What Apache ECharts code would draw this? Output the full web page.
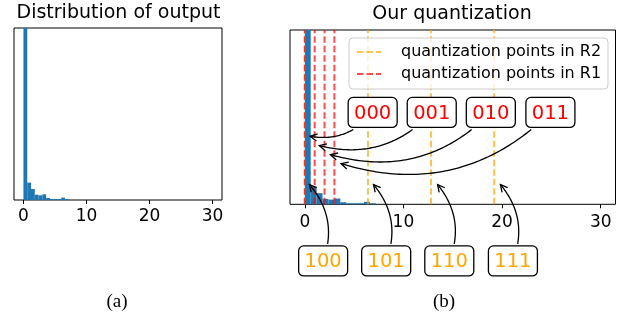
<!DOCTYPE html>
<html>
<head>
<meta charset="utf-8">
<script src="https://cdn.jsdelivr.net/npm/echarts@6/dist/echarts.min.js"></script>
<style>
  html, body { margin: 0; padding: 0; background: #fff; }
  #chart { width: 627px; height: 318px; }
</style>
</head>
<body>
<div id="chart"></div>
<script>
// histogram of the output (bins of 0.6, heights in % of the visible y range)
const binLo = [0, 0.6, 1.2, 1.8, 2.4, 3.0, 3.6, 4.2, 4.8, 5.4, 6.0, 6.6];
const binHi = [0.6, 1.2, 1.8, 2.4, 3.0, 3.6, 4.2, 4.8, 5.4, 6.0, 6.6, 7.2];
const freq = [560, 10.1, 6.4, 3.1, 2.7, 3.3, 1.2, 0.6, 0.6, 0.6, 1.4, 0.6];
const xTicks = [0, 10, 20, 30];

// quantization points
const pointsR2 = [0, 6.4, 12.8, 19.2];
const pointsR1 = [0, 1, 2, 3];

// annotations (data coords of right panel)
const codesR1 = ['000', '001', '010', '011'];
const boxR1X = [6.88, 12.87, 18.86, 24.9];
const boxR1Y = 52.7;
const targetR1 = [[0.33, 39.2], [1.25, 34.0], [2.37, 28.9], [3.48, 23.7]];
const codesR2 = ['100', '101', '110', '111'];
const boxR2X = [1.86, 8.25, 14.65, 21.1];
const boxR2Y = -32.5;
const targetR2 = [[0.33, 12.2], [6.83, 12.2], [13.33, 12.2], [19.7, 12.2]];

const FONT = 'DejaVu Sans';
const chart = echarts.init(document.getElementById('chart'), null, { renderer: 'canvas' });

function xAxisCfg(gi, margin) {
  return {
    type: 'value', gridIndex: gi, min: -1.5, max: 31.5,
    splitLine: { show: false },
    axisLine: { show: false },
    axisTick: { show: true, customValues: xTicks, length: 4, lineStyle: { color: '#000', width: 1 } },
    axisLabel: { customValues: xTicks, margin: margin, color: '#000', fontFamily: FONT, fontSize: 17 }
  };
}
function yAxisCfg(gi) {
  return {
    type: 'value', gridIndex: gi, min: 0, max: 100,
    splitLine: { show: false }, axisLine: { show: false },
    axisTick: { show: false }, axisLabel: { show: false }
  };
}

function renderBar(params, api) {
  const lo = api.coord([api.value(0), 0]);
  const hi = api.coord([api.value(1), api.value(2)]);
  const cs = params.coordSys;
  const shape = echarts.graphic.clipRectByRect(
    { x: lo[0], y: hi[1], width: hi[0] - lo[0], height: lo[1] - hi[1] },
    { x: cs.x, y: cs.y, width: cs.width, height: cs.height });
  return shape && { type: 'rect', shape: shape, style: { fill: '#1f77b4' } };
}
function vlineRenderer(color) {
  return function (params, api) {
    const x = api.coord([api.value(0), 0])[0];
    const cs = params.coordSys;
    return {
      type: 'line',
      shape: { x1: x, y1: cs.y + cs.height, x2: x, y2: cs.y },
      style: { stroke: color, opacity: 0.7, lineWidth: 2, lineDash: [6.5, 3] }
    };
  };
}

const histData = binLo.map((v, i) => [v, binHi[i], freq[i]]);

const option = {
  animation: false,
  grid: [
    { left: 14, top: 28, width: 208, height: 172, show: true, borderColor: '#000', borderWidth: 1 },
    { left: 290, top: 30, width: 325.5, height: 174.3, show: true, borderColor: '#000', borderWidth: 1 }
  ],
  xAxis: [xAxisCfg(0, 8), xAxisCfg(1, 10)],
  yAxis: [yAxisCfg(0), yAxisCfg(1)],
  series: [
    { type: 'custom', xAxisIndex: 0, yAxisIndex: 0, renderItem: renderBar, encode: { x: [0, 1], y: 2 }, data: histData },
    { type: 'custom', xAxisIndex: 1, yAxisIndex: 1, renderItem: renderBar, encode: { x: [0, 1], y: 2 }, data: histData },
    { type: 'custom', name: 'quantization points in R2', xAxisIndex: 1, yAxisIndex: 1, z: 3,
      renderItem: vlineRenderer('#FFA500'), encode: { x: 0 }, data: pointsR2.map(v => [v]) },
    { type: 'custom', name: 'quantization points in R1', xAxisIndex: 1, yAxisIndex: 1, z: 4,
      renderItem: vlineRenderer('#FF0000'), encode: { x: 0 }, data: pointsR1.map(v => [v]) }
  ]
};
chart.setOption(option);

function annotate(code, color, boxXY, target, rad) {
  const c = chart.convertToPixel({ gridIndex: 1 }, boxXY);
  const p = chart.convertToPixel({ gridIndex: 1 }, target);
  const dx = p[0] - c[0], dyUp = -(p[1] - c[1]);
  const ctrl = [(c[0] + p[0]) / 2 + rad * dyUp, (c[1] + p[1]) / 2 + rad * dx];
  const B = t => [
    (1 - t) * (1 - t) * c[0] + 2 * t * (1 - t) * ctrl[0] + t * t * p[0],
    (1 - t) * (1 - t) * c[1] + 2 * t * (1 - t) * ctrl[1] + t * t * p[1]
  ];
  const hw = 24.5, hh = 15;
  let t0 = 0;
  for (let t = 0; t <= 1; t += 0.002) {
    const q = B(t);
    if (Math.abs(q[0] - c[0]) > hw + 2 || Math.abs(q[1] - c[1]) > hh + 2) { t0 = t; break; }
  }
  let t1 = 1;
  for (let t = 1; t >= 0; t -= 0.002) {
    const q = B(t);
    if (Math.hypot(q[0] - p[0], q[1] - p[1]) >= 2) { t1 = t; break; }
  }
  const pts = [];
  for (let i = 0; i <= 60; i++) pts.push(B(t0 + (t1 - t0) * i / 60));
  const tip = pts[pts.length - 1];
  const prev = B(t1 - 0.02);
  let ux = tip[0] - prev[0], uy = tip[1] - prev[1];
  const len = Math.hypot(ux, uy); ux /= len; uy /= len;
  const L = 7, W = 3.6;
  const head = [
    [tip[0] - L * ux - W * uy, tip[1] - L * uy + W * ux],
    tip,
    [tip[0] - L * ux + W * uy, tip[1] - L * uy - W * ux]
  ];
  return [
    { type: 'polyline', z: 50, silent: true, shape: { points: pts }, style: { stroke: '#000', lineWidth: 1.3, fill: null } },
    { type: 'polyline', z: 50, silent: true, shape: { points: head }, style: { stroke: '#000', lineWidth: 1.3, fill: null } },
    { type: 'rect', z: 60, silent: true, shape: { x: c[0] - hw, y: c[1] - hh, width: hw * 2, height: hh * 2, r: 5 },
      style: { fill: '#fff', stroke: '#000', lineWidth: 1.3 } },
    { type: 'text', z: 61, silent: true, x: c[0], y: c[1] + 1,
      style: { text: code, fill: color, font: '19.5px "DejaVu Sans"', align: 'center', verticalAlign: 'middle' } }
  ];
}

let graphics = [];
codesR1.forEach((code, i) => {
  graphics = graphics.concat(annotate(code, '#FF0000', [boxR1X[i], boxR1Y], targetR1[i], -0.3));
});
codesR2.forEach((code, i) => {
  graphics = graphics.concat(annotate(code, '#FFA500', [boxR2X[i], boxR2Y], targetR2[i], 0.3));
});

// legend
graphics.push(
  { type: 'rect', z: 40, silent: true, shape: { x: 349, y: 38, width: 259, height: 51, r: 4 },
    style: { fill: 'rgba(255,255,255,0.8)', stroke: '#cccccc', lineWidth: 1 } },
  { type: 'line', z: 41, silent: true, shape: { x1: 357, y1: 52, x2: 381, y2: 52 },
    style: { stroke: '#FFA500', opacity: 0.7, lineWidth: 2, lineDash: [6.5, 3] } },
  { type: 'line', z: 41, silent: true, shape: { x1: 357, y1: 74, x2: 381, y2: 74 },
    style: { stroke: '#FF0000', opacity: 0.7, lineWidth: 2, lineDash: [6.5, 3] } },
  { type: 'text', z: 41, silent: true, x: 401, y: 52,
    style: { text: 'quantization points in R2', fill: '#000', font: '16px "DejaVu Sans"', verticalAlign: 'middle' } },
  { type: 'text', z: 41, silent: true, x: 401, y: 74,
    style: { text: 'quantization points in R1', fill: '#000', font: '16px "DejaVu Sans"', verticalAlign: 'middle' } }
);

// titles and captions
graphics.push(
  { type: 'text', silent: true, x: 118.5, y: 13,
    style: { text: 'Distribution of output', fill: '#000', font: '19px "DejaVu Sans"', align: 'center', verticalAlign: 'middle' } },
  { type: 'text', silent: true, x: 452, y: 14.5,
    style: { text: 'Our quantization', fill: '#000', font: '19px "DejaVu Sans"', align: 'center', verticalAlign: 'middle' } },
  { type: 'text', silent: true, x: 117, y: 302,
    style: { text: '(a)', fill: '#000', font: '19px "Liberation Serif"', align: 'center', verticalAlign: 'middle' } },
  { type: 'text', silent: true, x: 444, y: 302,
    style: { text: '(b)', fill: '#000', font: '19px "Liberation Serif"', align: 'center', verticalAlign: 'middle' } }
);

chart.setOption({ graphic: graphics });
</script>
</body>
</html>
